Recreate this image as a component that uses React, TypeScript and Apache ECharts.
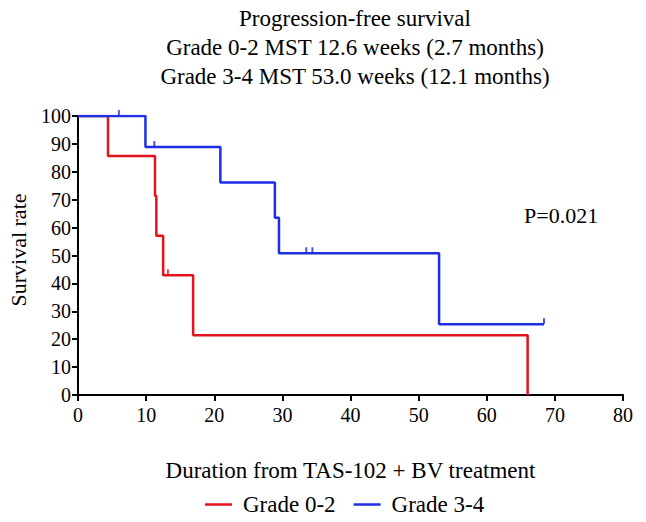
import React, { useEffect, useRef } from "react";
import * as echarts from "echarts";

const FONT = "Liberation Serif, Times New Roman, serif";

const titleLines = [
  "Progression-free survival",
  "Grade 0-2 MST 12.6 weeks (2.7 months)",
  "Grade 3-4 MST 53.0 weeks (12.1 months)",
];
const seriesNames = ["Grade 0-2", "Grade 3-4"];

// Kaplan-Meier steps (time in weeks, survival rate %)
const redTimes = [0, 4.4, 11.3, 11.5, 12.5, 16.9, 66.0];
const redSurv = [100, 85.7, 71.4, 57.1, 42.9, 21.4, 0];
const redCensorTimes = [13.2];
const redCensorSurv = [42.9];

const blueTimes = [0, 9.9, 20.9, 28.9, 29.5, 53.0, 68.4];
const blueSurv = [100, 88.9, 76.2, 63.5, 50.8, 25.4, 25.4];
const blueCensorTimes = [6.0, 11.2, 33.5, 34.4, 68.4];
const blueCensorSurv = [100, 88.9, 50.8, 50.8, 25.4];

const pValueText = "P=0.021";
const xName = "Duration from TAS-102 + BV treatment";
const yName = "Survival rate";

const RED = "#e3131d";
const BLUE = "#1c2ee6";

const zip = (a: number[], b: number[]) => a.map((v, i) => [v, b[i]]);

export default function App() {
  const ref = useRef<HTMLDivElement>(null);
  useEffect(() => {
    if (!ref.current) return;
    const chart = echarts.init(ref.current, null, { renderer: "svg" });
    const censorStyle = (color: string, name: string, t: number[], s: number[]) => ({
      name,
      type: "scatter",
      data: zip(t, s),
      symbol: "rect",
      symbolSize: [2, 6],
      symbolOffset: [0, -3],
      itemStyle: { color },
      z: 5,
      silent: true,
    });
    const tickLabel = (margin: number) => ({
      margin,
      color: "#000",
      fontSize: 20,
      fontFamily: FONT,
      formatter: "{t|{value}}",
      rich: { t: { fontSize: 20, fontFamily: FONT, color: "#000" } },
    });
    chart.setOption({
      animation: false,
      backgroundColor: "#ffffff",
      textStyle: { fontFamily: FONT },
      grid: { left: 78, top: 116, width: 545, height: 279 },
      xAxis: {
        type: "value",
        min: 0,
        max: 80,
        interval: 10,
        name: xName,
        nameLocation: "middle",
        nameGap: 64,
        nameTextStyle: { fontSize: 23, color: "#000", fontFamily: FONT },
        axisLine: { show: true, lineStyle: { color: "#000", width: 2 } },
        axisTick: { show: true, inside: false, length: 6, lineStyle: { color: "#000", width: 2 } },
        axisLabel: tickLabel(10),
        splitLine: { show: false },
      },
      yAxis: {
        type: "value",
        min: 0,
        max: 100,
        interval: 10,
        axisLine: { show: true, lineStyle: { color: "#000", width: 2 } },
        axisTick: { show: true, inside: false, length: 6, lineStyle: { color: "#000", width: 2 } },
        axisLabel: tickLabel(7),
        splitLine: { show: false },
      },
      legend: {
        data: seriesNames,
        left: 205,
        top: 493,
        padding: 0,
        icon: "rect",
        itemWidth: 27,
        itemHeight: 2.5,
        itemGap: 18,
        textStyle: { fontSize: 23, color: "#000", fontFamily: FONT, padding: [0, 0, 0, 6] },
      },
      graphic: [
        ...titleLines.map((t, i) => ({
          type: "text",
          x: 355,
          y: 18 + i * 29,
          style: {
            text: t,
            fontSize: 23,
            fontFamily: FONT,
            fill: "#000",
            textAlign: "center",
            textVerticalAlign: "middle",
          },
        })),
        {
          type: "text",
          x: 18,
          y: 250,
          rotation: Math.PI / 2,
          style: {
            text: yName,
            fontSize: 22,
            fontFamily: FONT,
            fill: "#000",
            textAlign: "center",
            textVerticalAlign: "middle",
          },
        },
        {
          type: "text",
          x: 524,
          y: 215,
          style: {
            text: pValueText,
            fontSize: 22,
            fontFamily: FONT,
            fill: "#000",
            textAlign: "left",
            textVerticalAlign: "middle",
          },
        },
      ],
      series: [
        {
          name: seriesNames[0],
          type: "line",
          step: "end",
          data: zip(redTimes, redSurv),
          showSymbol: false,
          symbol: "none",
          lineStyle: { color: RED, width: 2.5 },
          itemStyle: { color: RED },
          z: 3,
        },
        {
          name: seriesNames[1],
          type: "line",
          step: "end",
          data: zip(blueTimes, blueSurv),
          showSymbol: false,
          symbol: "none",
          lineStyle: { color: BLUE, width: 2.5 },
          itemStyle: { color: BLUE },
          z: 4,
        },
        censorStyle(RED, "Grade 0-2 censored", redCensorTimes, redCensorSurv),
        censorStyle(BLUE, "Grade 3-4 censored", blueCensorTimes, blueCensorSurv),
      ],
    });
    return () => chart.dispose();
  }, []);
  return (
    <div
      ref={ref}
      style={{ position: "fixed", left: 0, top: 0, width: 646, height: 522, background: "#fff" }}
    />
  );
}
